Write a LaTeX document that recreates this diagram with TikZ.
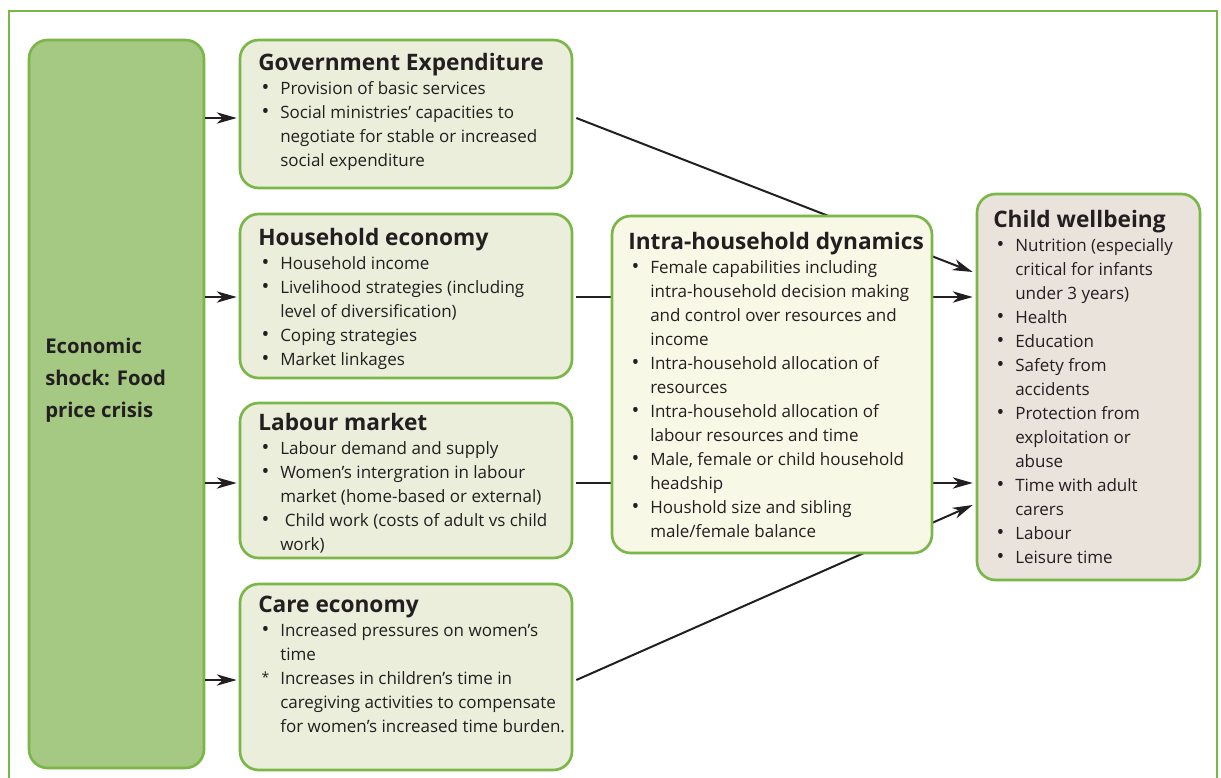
\documentclass[tikz,border=0pt]{standalone}
\usepackage{fontspec}
\setmainfont{Open Sans}
\usetikzlibrary{arrows.meta,calc}
\definecolor{bordergreen}{RGB}{122,182,72}
\definecolor{shockfill}{RGB}{165,200,130}
\definecolor{sidefill}{RGB}{234,238,219}
\definecolor{intrafill}{RGB}{248,248,231}
\definecolor{childfill}{RGB}{233,227,220}
\definecolor{ink}{RGB}{35,31,32}
\newcommand{\ttl}[1]{{\fontsize{17}{18}\selectfont\bfseries #1\par}}
\newcommand{\mybul}{{\fontsize{15.5}{18}\selectfont\textbullet}}
\newcommand{\myast}{\raisebox{1.5pt}{\fontsize{10.5}{18}\selectfont *}}
\newcommand{\itm}[2][\mybul]{\par\hangindent=16.5pt\hangafter=1\noindent\makebox[16.5pt][l]{\hspace{2.5pt}#1}#2\par}
\newcommand{\bodyset}{\fontsize{12.75}{18}\selectfont\lineskiplimit=-20pt\raggedright}
\begin{document}
\begin{tikzpicture}[x=0.75pt,y=-0.75pt,
  box/.style={draw=bordergreen,line width=2pt,rounded corners=14pt,inner sep=0pt},
  txt/.style={anchor=base west,inner sep=0pt,text=ink},
  conn/.style={draw=ink,line width=1.5pt},
  arr/.style={conn,-{Stealth[length=15pt,width=8.5pt,inset=4.5pt]}}]
\useasboundingbox (0,0) rectangle (1221,778);
\draw[bordergreen,line width=1.5pt] (9,11) rectangle (1217,800);
% boxes
\node[box,fill=shockfill,minimum width=131.25pt,minimum height=546pt] (shock) at (116.5,404) {};
\node[box,fill=sidefill,minimum width=249pt,minimum height=111pt] (gov) at (406,114) {};
\node[box,fill=sidefill,minimum width=249pt,minimum height=123pt] (hh) at (406,296) {};
\node[box,fill=sidefill,minimum width=249pt,minimum height=116.25pt] (lab) at (406,480.5) {};
\node[box,fill=sidefill,minimum width=249pt,minimum height=139.5pt] (care) at (406,677) {};
\node[box,fill=childfill,minimum width=167.25pt,minimum height=289.5pt] (child) at (1088.5,387) {};
% arrows from shock
\draw[arr] ($(shock.east|-gov.west)+(0,4)$) -- ($(gov.west)+(-2,4)$);
\draw[arr] ($(shock.east|-hh.west)+(0,1)$) -- ($(hh.west)+(-2,1)$);
\draw[arr] ($(shock.east|-lab.west)+(0,2.5)$) -- ($(lab.west)+(-2,2.5)$);
\draw[arr] ($(shock.east|-care.west)+(0,3)$) -- ($(care.west)+(-2,3)$);
% long connectors to child wellbeing (pass behind intra-household box)
\draw[arr] ($(gov.east)+(3,4)$) -- ($(child.west)+(-3,-115)$);
\draw[arr] ($(hh.east)+(3,1)$) -- ($(child.west)+(-3,-90)$);
\draw[arr] ($(lab.east)+(3,2.5)$) -- ($(child.west)+(-3,96)$);
\draw[arr] ($(care.east)+(3,3)$) -- ($(child.west)+(-3,118)$);
% intra-household box on top
\node[box,fill=intrafill,minimum width=240pt,minimum height=252.75pt] (intra) at (772,384.5) {};
% texts
\node[txt] (shockt) at (45,353) {\parbox[t]{125pt}{\fontsize{15.2}{24}\selectfont\bfseries Economic\\shock: Food\\price crisis}};
\node[txt] (govt) at (258,70) {\parbox[t]{240pt}{\bodyset
\ttl{Government Expenditure}
\itm{Provision of basic services}
\itm{Social ministries’ capacities to\newline negotiate for stable or increased\newline social expenditure}}};
\node[txt] (hht) at (258,245) {\parbox[t]{240pt}{\bodyset
\ttl{Household economy}
\itm{Household income}
\itm{Livelihood strategies (including\newline level of diversification)}
\itm{Coping strategies}
\itm{Market linkages}}};
\node[txt] (labt) at (258,430) {\parbox[t]{240pt}{\bodyset
\ttl{Labour market}
\itm{Labour demand and supply}
\itm{Women’s intergration in labour\newline market (home-based or external)}
\itm{\hspace{3.5pt}Child work (costs of adult vs child\newline work)}}};
\node[txt] (caret) at (258,612) {\parbox[t]{240pt}{\bodyset
\ttl{Care economy}
\itm{Increased pressures on women’s\newline time}
\itm[\myast]{Increases in children’s time in\newline caregiving activities to compensate\newline for women’s increased time burden.}}};
\node[txt] (intrat) at (628,249) {\parbox[t]{235pt}{\bodyset
\ttl{Intra-household dynamics}
\itm{Female capabilities including\newline intra-household decision making\newline and control over resources and\newline income}
\itm{Intra-household allocation of\newline resources}
\itm{Intra-household allocation of\newline labour resources and time}
\itm{Male, female or child household\newline headship}
\itm{Houshold size and sibling\newline male/female balance}}};
\node[txt] (childt) at (993,227) {\parbox[t]{160pt}{\bodyset
\ttl{Child wellbeing}
\itm{Nutrition (especially\newline critical for infants\newline under 3 years)}
\itm{Health}
\itm{Education}
\itm{Safety from\newline accidents}
\itm{Protection from\newline exploitation or\newline abuse}
\itm{Time with adult\newline carers}
\itm{Labour}
\itm{Leisure time}}};
\end{tikzpicture}
\end{document}
